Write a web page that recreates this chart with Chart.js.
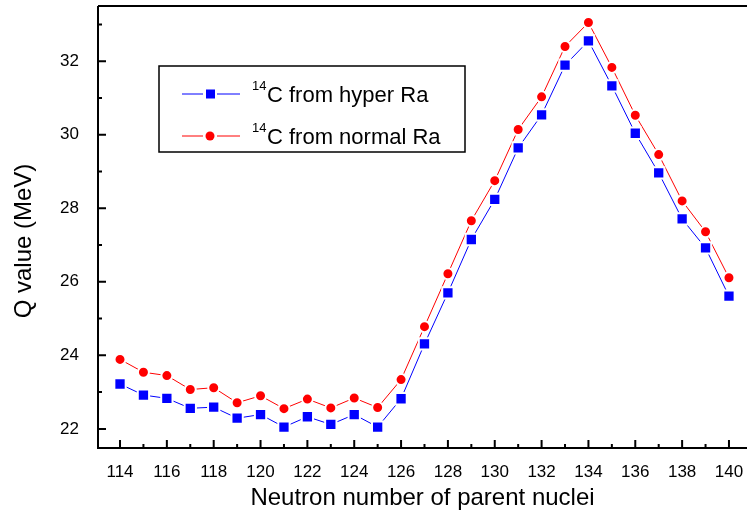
<!DOCTYPE html>
<html>
<head>
<meta charset="utf-8">
<script src="https://cdn.jsdelivr.net/npm/chart.js@4.4.0/dist/chart.umd.min.js"></script>
<style>
  body { margin: 0; background: #fff; }
  #wrap { width: 747px; height: 514px; }
</style>
</head>
<body>
<div id="wrap"><canvas id="qchart"></canvas></div>
<script>
// neutron number of parent nucleus
const neutrons = [114,115,116,117,118,119,120,121,122,123,124,125,126,127,128,129,130,131,132,133,134,135,136,137,138,139,140];
// Q value (MeV) for 14C emission
const hyperQ = [23.22,22.92,22.83,22.56,22.59,22.29,22.39,22.05,22.33,22.12,22.39,22.05,22.82,24.31,25.70,27.15,28.24,29.64,30.54,31.89,32.55,31.33,30.04,28.96,27.71,26.92,25.61];
const normalQ = [23.89,23.54,23.45,23.07,23.12,22.71,22.90,22.55,22.81,22.57,22.84,22.58,23.34,24.78,26.22,27.66,28.75,30.14,31.03,32.40,33.05,31.83,30.53,29.46,28.20,27.36,26.11];

const xTicks = [114,116,118,120,122,124,126,128,130,132,134,136,138,140];
const yTicks = [22,24,26,28,30,32];

const seriesNames = ['C from hyper Ra', 'C from normal Ra'];
const isotope = '14';

const sans = "'Liberation Sans', Arial, sans-serif";

function noOverflow(scale) {
    scale.paddingTop = 0;
    scale.paddingBottom = 0;
    scale.paddingLeft = 0;
    scale.paddingRight = 0;
}

// axes drawn by hand so the ticks point inward like the original
const axisFrame = {
    id: 'axisFrame',
    afterDraw(chart) {
        const ctx = chart.ctx;
        const a = chart.chartArea;
        const xs = chart.scales.x, ys = chart.scales.y;
        ctx.save();
        ctx.strokeStyle = '#000';
        ctx.lineWidth = 2;
        ctx.beginPath();
        ctx.moveTo(a.left, a.top);
        ctx.lineTo(a.left, a.bottom);
        ctx.lineTo(a.right, a.bottom);
        ctx.moveTo(a.left, a.top);
        ctx.lineTo(a.right, a.top);
        ctx.stroke();
        ctx.beginPath();
        xTicks.forEach(function (v, i) {
            let px = xs.getPixelForValue(v);
            ctx.moveTo(px, a.bottom);
            ctx.lineTo(px, a.bottom - 8);
            if (i < xTicks.length - 1) {
                px = xs.getPixelForValue(v + 1);
                ctx.moveTo(px, a.bottom);
                ctx.lineTo(px, a.bottom - 4);
            }
        });
        yTicks.forEach(function (v) {
            let py = ys.getPixelForValue(v);
            ctx.moveTo(a.left, py);
            ctx.lineTo(a.left + 8, py);
            py = ys.getPixelForValue(v + 1);
            ctx.moveTo(a.left, py);
            ctx.lineTo(a.left + 4, py);
        });
        ctx.stroke();

        // y axis title
        ctx.fillStyle = '#000';
        ctx.font = '24px ' + sans;
        ctx.textAlign = 'center';
        ctx.textBaseline = 'middle';
        ctx.translate(24, 241);
        ctx.rotate(-Math.PI / 2);
        ctx.fillText('Q value (MeV)', 0, 0);
        ctx.restore();

        // legend box
        const bx = a.left + 61, by = a.top + 60, bw = 306, bh = 86;
        ctx.save();
        ctx.strokeStyle = '#000';
        ctx.lineWidth = 1.5;
        ctx.strokeRect(bx, by, bw, bh);
        chart.data.datasets.forEach(function (ds, i) {
            const ly = by + 28 + i * 42;
            ctx.strokeStyle = ds.borderColor;
            ctx.lineWidth = 1;
            ctx.beginPath();
            ctx.moveTo(bx + 23, ly);
            ctx.lineTo(bx + 44, ly);
            ctx.moveTo(bx + 58, ly);
            ctx.lineTo(bx + 81, ly);
            ctx.stroke();
            ctx.fillStyle = ds.pointBackgroundColor;
            if (ds.pointStyle === 'rect') {
                ctx.fillRect(bx + 47, ly - 4.5, 9, 9);
            } else {
                ctx.beginPath();
                ctx.arc(bx + 51, ly, 4.5, 0, Math.PI * 2);
                ctx.fill();
            }
            ctx.fillStyle = '#000';
            ctx.textAlign = 'left';
            ctx.textBaseline = 'alphabetic';
            ctx.font = '13px ' + sans;
            ctx.fillText(isotope, bx + 93, ly - 4);
            ctx.font = '22px ' + sans;
            ctx.fillText(seriesNames[i], bx + 108, ly + 8);
        });
        ctx.restore();
    }
};

const qchart = new Chart(
    document.getElementById('qchart'),
    {
    type: 'line',
    data: {
        datasets: [{
            label: '14' + seriesNames[0],
            data: neutrons.map((n, i) => ({x: n, y: hyperQ[i]})),
            borderColor: '#0000ff',
            borderWidth: 1,
            pointStyle: 'rect',
            pointRadius: 8,
            pointBackgroundColor: '#0000ff',
            pointBorderColor: '#ffffff',
            pointBorderWidth: 2,
            tension: 0
        }, {
            label: '14' + seriesNames[1],
            data: neutrons.map((n, i) => ({x: n, y: normalQ[i]})),
            borderColor: '#ff0000',
            borderWidth: 1,
            pointStyle: 'circle',
            pointRadius: 5.5,
            pointBackgroundColor: '#ff0000',
            pointBorderColor: '#ffffff',
            pointBorderWidth: 2,
            tension: 0
        }]
    },
    options: {
        responsive: true,
        maintainAspectRatio: false,
        animation: false,
        layout: { autoPadding: false, padding: { top: 6, right: 0, left: 0, bottom: 0 } },
        plugins: {
            legend: { display: false },
            tooltip: { enabled: false }
        },
        scales: {
            x: {
                type: 'linear',
                min: 113.06,
                max: 140.77,
                grid: { display: false },
                border: { display: false },
                afterBuildTicks: function (scale) {
                    scale.ticks = xTicks.map(v => ({value: v}));
                },
                afterFit: function (scale) {
                    scale.height = 66;
                    noOverflow(scale);
                },
                ticks: {
                    color: '#000',
                    padding: 6,
                    maxRotation: 0,
                    autoSkip: false,
                    font: { family: sans, size: 17 }
                },
                title: {
                    display: true,
                    text: 'Neutron number of parent nuclei',
                    color: '#000',
                    font: { family: sans, size: 24 },
                    padding: { top: 0, bottom: 1 }
                }
            },
            y: {
                min: 21.48,
                max: 33.5,
                grid: { display: false },
                border: { display: false },
                afterBuildTicks: function (scale) {
                    scale.ticks = yTicks.map(v => ({value: v}));
                },
                afterFit: function (scale) {
                    scale.width = 98;
                    noOverflow(scale);
                },
                ticks: {
                    color: '#000',
                    padding: 11,
                    font: { family: sans, size: 17 }
                }
            }
        }
    },
    plugins: [axisFrame]
    }
);
</script>
</body>
</html>
